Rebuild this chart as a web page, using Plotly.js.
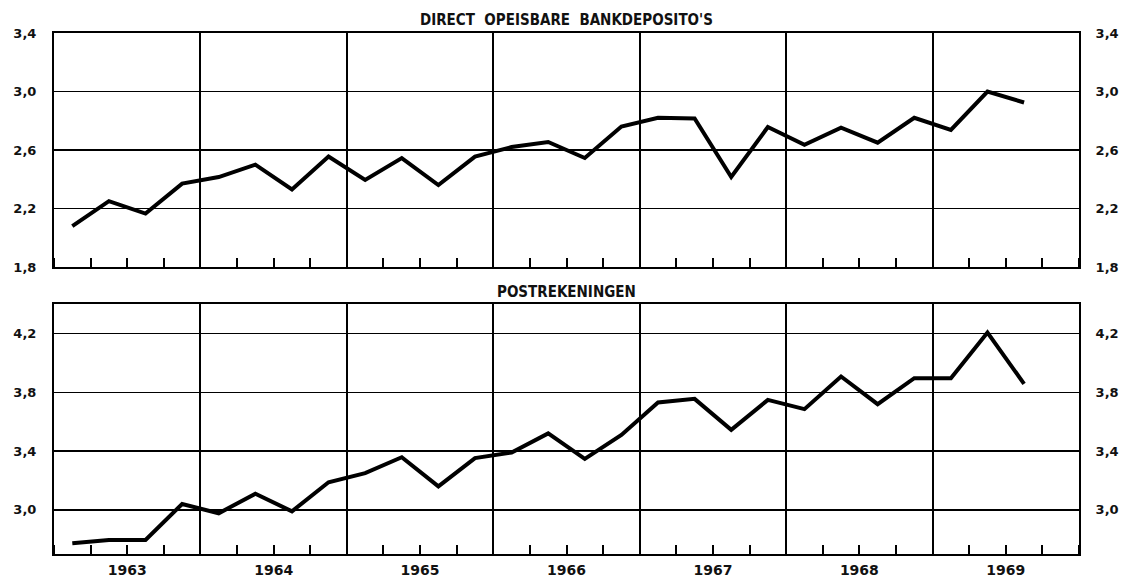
<!DOCTYPE html>
<html>
<head>
<meta charset="utf-8">
<script src="https://cdn.plot.ly/plotly-3.0.1.min.js"></script>
<style>html,body{margin:0;padding:0;background:#fff;}#chart{width:1126px;height:577px;}</style>
</head>
<body>
<div id="chart"></div>
<script>
// Quarterly periods (year, quarter)
const periodYears = [1963,1963,1963,1963,1964,1964,1964,1964,1965,1965,1965,1965,1966,1966,1966,1966,1967,1967,1967,1967,1968,1968,1968,1968,1969,1969,1969];
const periodQuarters = [1,2,3,4,1,2,3,4,1,2,3,4,1,2,3,4,1,2,3,4,1,2,3,4,1,2,3];

// Direct opeisbare bankdeposito's
const bankDeposits = [2.08, 2.25, 2.165, 2.37, 2.415, 2.50, 2.33, 2.555, 2.395, 2.545, 2.36, 2.555, 2.62, 2.655, 2.545, 2.76, 2.82, 2.815, 2.415, 2.757, 2.635, 2.753, 2.65, 2.82, 2.737, 3.0, 2.925];
// Postrekeningen
const postAccounts = [2.773, 2.796, 2.796, 3.04, 2.977, 3.11, 2.99, 3.188, 3.25, 3.358, 3.16, 3.352, 3.39, 3.52, 3.347, 3.51, 3.73, 3.755, 3.544, 3.748, 3.685, 3.907, 3.719, 3.896, 3.896, 4.206, 3.857];

const yearLabels = ["1963","1964","1965","1966","1967","1968","1969"];
const yearValues = [1963,1964,1965,1966,1967,1968,1969];
const topTickVals = [1.8, 2.2, 2.6, 3.0, 3.4];
const topTickText = ["1,8","2,2","2,6","3,0","3,4"];
const botTickVals = [3.0, 3.4, 3.8, 4.2];
const botTickText = ["3,0","3,4","3,8","4,2"];
const topTitle = "DIRECT\u00a0\u00a0OPEISBARE\u00a0\u00a0BANKDEPOSITO'S";
const botTitle = "POSTREKENINGEN";

// x position = middle of quarter
const xq = periodYears.map((y, i) => y + (periodQuarters[i] - 0.5) / 4);
const yearMid = yearValues.map(y => y + 0.5);
const yearBounds = yearValues.slice(1);

const tickFont = {family: "DejaVu Sans, Verdana, sans-serif", size: 13, color: "#111", weight: "bold"};
const yearFont = {family: "DejaVu Sans, Verdana, sans-serif", size: 14, color: "#111", weight: "bold"};
const titleFont = {family: "DejaVu Sans Condensed, Liberation Sans Narrow, Arial Narrow, sans-serif", size: 15, color: "#111", weight: "bold"};

const lineStyle = {color: "#000", width: 4};

const traces = [
  {x: xq, y: bankDeposits, xaxis: "x", yaxis: "y", mode: "lines", line: lineStyle, hoverinfo: "skip", showlegend: false},
  {x: xq, y: postAccounts, xaxis: "x2", yaxis: "y2", mode: "lines", line: lineStyle, hoverinfo: "skip", showlegend: false},
  // empty carriers so the overlay axes (right labels, year labels) are drawn
  {x: [], y: [], xaxis: "x", yaxis: "y3", mode: "lines", hoverinfo: "skip", showlegend: false},
  {x: [], y: [], xaxis: "x2", yaxis: "y4", mode: "lines", hoverinfo: "skip", showlegend: false},
  {x: [], y: [], xaxis: "x3", yaxis: "y2", mode: "lines", hoverinfo: "skip", showlegend: false}
];

function xBase(anchor) {
  return {
    anchor: anchor, domain: [0, 1], range: [1963, 1970],
    tickmode: "array", tickvals: yearBounds, showticklabels: false, ticks: "",
    showgrid: true, gridcolor: "#000", gridwidth: 2, zeroline: false,
    showline: true, mirror: true, linecolor: "#000", linewidth: 2,
    minor: {tick0: 1963, dtick: 0.25, ticks: "inside", ticklen: 9, tickwidth: 2, tickcolor: "#000", showgrid: false}
  };
}
function yBase(anchor, domain, range, vals, text) {
  return {
    anchor: anchor, domain: domain, range: range,
    tickmode: "array", tickvals: vals, ticktext: text,
    ticks: "outside", ticklen: 13, tickcolor: "rgba(0,0,0,0)",
    tickfont: tickFont, showgrid: true, gridcolor: "#000", gridwidth: 1.5,
    zeroline: false, showline: true, mirror: true, linecolor: "#000", linewidth: 2
  };
}
function yRight(over, anchor, range, vals, text) {
  return {
    overlaying: over, side: "right", anchor: anchor, range: range,
    tickmode: "array", tickvals: vals, ticktext: text,
    ticks: "outside", ticklen: 13, tickcolor: "rgba(0,0,0,0)",
    tickfont: tickFont, showgrid: false, zeroline: false, showline: false
  };
}

const topDomain = [0.5509, 1];
const botDomain = [0, 0.4798];

const layout = {
  width: 1126, height: 577,
  margin: {l: 54, r: 47, t: 33, b: 23},
  paper_bgcolor: "#fff", plot_bgcolor: "#fff",
  showlegend: false,
  xaxis: xBase("y"),
  xaxis2: Object.assign(xBase("y2"), {matches: "x"}),
  xaxis3: {
    overlaying: "x2", anchor: "y2", side: "bottom", range: [1963, 1970],
    tickmode: "array", tickvals: yearMid, ticktext: yearLabels,
    ticks: "outside", ticklen: 3, tickcolor: "rgba(0,0,0,0)",
    tickfont: yearFont, showgrid: false, zeroline: false, showline: false
  },
  yaxis: yBase("x", topDomain, [1.8, 3.4], topTickVals, topTickText),
  yaxis2: yBase("x2", botDomain, [2.7, 4.4], botTickVals, botTickText),
  yaxis3: yRight("y", "x", [1.8, 3.4], topTickVals, topTickText),
  yaxis4: yRight("y2", "x2", [2.7, 4.4], botTickVals, botTickText),
  annotations: [
    {text: topTitle, xref: "paper", yref: "paper", x: 0.5, y: topDomain[1], xanchor: "center", yanchor: "bottom", yshift: 2, showarrow: false, font: titleFont},
    {text: botTitle, xref: "paper", yref: "paper", x: 0.5, y: botDomain[1], xanchor: "center", yanchor: "bottom", yshift: 1, showarrow: false, font: titleFont}
  ]
};

Plotly.newPlot("chart", traces, layout, {staticPlot: true, displayModeBar: false});
</script>
</body>
</html>
